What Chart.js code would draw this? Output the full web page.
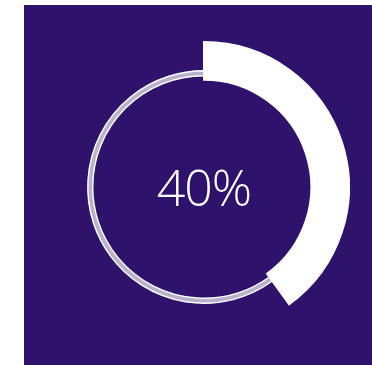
<!DOCTYPE html>
<html>
<head>
<meta charset="utf-8">
<script src="https://cdn.jsdelivr.net/npm/chart.js@4/dist/chart.umd.min.js"></script>
<style>
  html, body { margin: 0; padding: 0; background: #ffffff; width: 372px; height: 365px; overflow: hidden; }
  #panel { position: absolute; left: 24px; top: 5px; width: 348px; height: 360px; background: #2f126c; }
  #wrap { position: absolute; left: 58px; top: 41px; width: 292px; height: 292px; }
  #label { position: absolute; left: 124px; top: 157px; width: 160px; text-align: center;
           font-family: "Open Sans", sans-serif; font-weight: 300; font-size: 50px; line-height: 60px;
           color: #ffffff; letter-spacing: -1px; }
</style>
</head>
<body>
<div id="panel"></div>
<div id="wrap"><canvas id="c"></canvas></div>
<div id="label"></div>
<script>
const categories = ['Complete', 'Remaining'];
const values = [40, 60];
const centerText = '40%';

document.getElementById('label').textContent = centerText;

const WHITE = '#ffffff';
const layers = [
  { weight: 29, colors: [WHITE, 'rgba(0,0,0,0)'], borders: [2, 0] },
  { weight: 5,  colors: [WHITE, 'rgb(185,178,205)'], borders: [2, 1.4] },
  { weight: 4,  colors: [WHITE, 'rgba(0,0,0,0)'], borders: [2, 0] }
];

new Chart(document.getElementById('c'), {
  type: 'doughnut',
  data: {
    labels: categories,
    datasets: layers.map(l => ({
      data: values,
      weight: l.weight,
      backgroundColor: l.colors,
      borderColor: [WHITE, WHITE],
      borderWidth: l.borders,
      borderJoinStyle: 'miter'
    }))
  },
  options: {
    responsive: true,
    maintainAspectRatio: false,
    animation: false,
    events: [],
    cutout: '74%',
    rotation: 0,
    layout: { padding: 0 },
    plugins: { legend: { display: false }, tooltip: { enabled: false } }
  }
});
</script>
</body>
</html>
